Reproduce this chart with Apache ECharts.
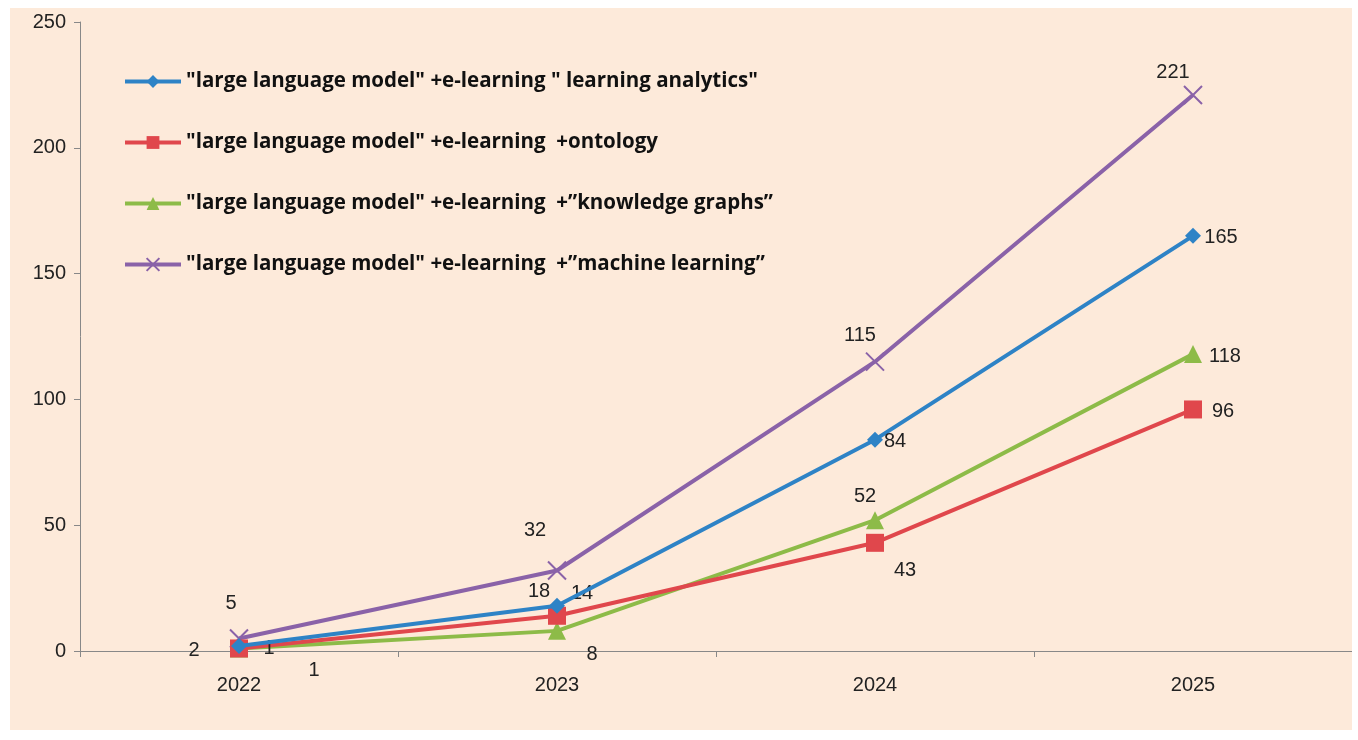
<!DOCTYPE html>
<html><head><meta charset="utf-8">
<script src="https://cdn.jsdelivr.net/npm/echarts@6/dist/echarts.min.js"></script>
<style>html,body{margin:0;background:#fff}#c{position:absolute;left:10px;top:8px;width:1342px;height:722px;background:#FDEADA;overflow:hidden}</style>
</head><body><div id="c"></div>
<script>
const categories = ['2022','2023','2024','2025'];
const names = ['"large language model" +e-learning " learning analytics"','"large language model" +e-learning  +ontology','"large language model" +e-learning  +\u201dknowledge graphs\u201d','"large language model" +e-learning  +\u201dmachine learning\u201d'];
const analytics = [2,18,84,165];
const ontology = [1,14,43,96];
const graphs = [1,8,52,118];
const ml = [5,32,115,221];
const colors = ['#2E83C6','#E0474C','#8DBB48','#8A62A8'];
const symbols = ['diamond','rect','triangle','path://M0,0L10,10M10,0L0,10'];
const sizes = [16,18,18,18];
const labelPos = [
  [[-45,5],[-18,-14],[20,2],[28,2]],
  [[30,0],[25,-22],[30,28],[30,2]],
  [[75,22],[35,24],[-10,-24],[32,2]],
  [[-8,-35],[-22,-40],[-15,-26],[-20,-22]]
];
const datas=[analytics,ontology,graphs,ml];
const chart = echarts.init(document.getElementById('c'));
chart.setOption({
  animation:false,
  grid:{left:70,right:-78,top:14,bottom:79},
  legend:{orient:'vertical',left:108,top:58,itemGap:40,itemWidth:56,itemHeight:16,
    lineStyle:{width:4},
    textStyle:{fontFamily:'Open Sans',fontWeight:'bold',fontSize:20.5,color:'#111'},data:names},
  xAxis:{type:'category',data:categories,boundaryGap:true,
    axisLine:{lineStyle:{color:'#888'}},axisTick:{show:true,length:6,lineStyle:{color:'#888'}},
    axisLabel:{fontSize:20,color:'#222',margin:24,fontFamily:'Liberation Sans'}},
  yAxis:{type:'value',min:0,max:250,interval:50,
    axisLine:{show:true,lineStyle:{color:'#888'}},axisTick:{show:true,length:6,lineStyle:{color:'#888'}},
    splitLine:{show:false},axisLabel:{fontSize:20,color:'#222',margin:14,fontFamily:'Liberation Sans'}},
  series: datas.map((d,i)=>({
    name:names[i],type:'line',symbol:symbols[i],symbolSize:sizes[i],
    lineStyle:{width:4,color:colors[i]},
    itemStyle:{color:colors[i],borderColor:colors[i],borderWidth:i===3?2:0},
    data:d.map((v,j)=>({value:v,label:{show:true,position:'inside',offset:labelPos[i][j],
      fontSize:20,color:'#222',fontFamily:'Liberation Sans'}})),
    z:10-i
  }))
});
</script></body></html>
